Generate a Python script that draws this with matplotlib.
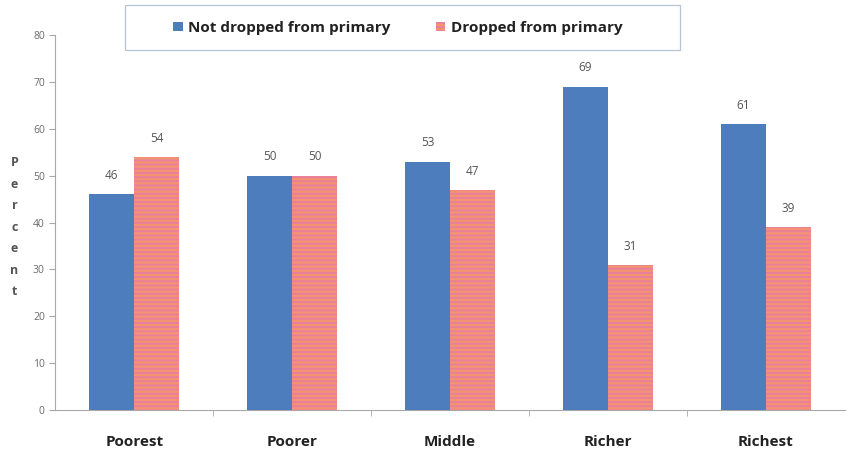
import numpy as np
import matplotlib
matplotlib.use('Agg')
import matplotlib.pyplot as plt
from matplotlib.patches import Rectangle

plt.rcParams['hatch.linewidth'] = 1.4
plt.rcParams['font.family'] = ['Open Sans', 'DejaVu Sans']

# school dropout by wealth quintile
groups = ['Poorest', 'Poorer', 'Middle', 'Richer', 'Richest']
not_dropped = [46, 50, 53, 69, 61]
dropped = [54, 50, 47, 31, 39]
series_names = ['Not dropped from primary', 'Dropped from primary']

BLUE = '#4d7dbd'
SALMON = '#f4946e'
PINK = '#e87f9e'
TICK_C = '#6b6b6b'
AXIS_C = '#a8a8a8'

fig = plt.figure(figsize=(8.5, 4.5), dpi=100, facecolor='white')
ax = fig.add_axes([0.065, 0.089, 0.929, 0.833])

x = np.arange(len(groups))
w = 0.285
b1 = ax.bar(x - w / 2, not_dropped, width=w, color=BLUE, zorder=3)
b2 = ax.bar(x + w / 2, dropped, width=w, color=SALMON, edgecolor=PINK,
            hatch='----', linewidth=0, zorder=3)

for bars, vals in ((b1, not_dropped), (b2, dropped)):
    for bar, v in zip(bars, vals):
        ax.text(bar.get_x() + bar.get_width() / 2, v + 2.6, f'{v}',
                ha='center', va='bottom', fontsize=8.5, color='#555555')

ax.set_xlim(-0.5, len(groups) - 0.5)
ax.set_ylim(0, 80)
ax.set_yticks(range(0, 81, 10))
ax.tick_params(axis='y', labelsize=7.5, colors=AXIS_C, labelcolor=TICK_C,
               length=4, direction='out')
ax.set_xticks(x)
ax.set_xticklabels(groups, fontsize=11, fontweight='bold', color='#222222')
ax.tick_params(axis='x', length=0, pad=18)
ax.set_xticks(np.arange(0.5, len(groups) - 0.5, 1), minor=True)
ax.tick_params(axis='x', which='minor', length=4, color=AXIS_C,
               direction='out')

for side in ('top', 'right'):
    ax.spines[side].set_visible(False)
ax.spines['left'].set_color(AXIS_C)
ax.spines['bottom'].set_color(AXIS_C)

fig.text(0.017, 0.495, '\n'.join('Percent'), ha='center', va='center',
         fontsize=9, fontweight='bold', color='#555555', linespacing=1.85)

# legend box drawn separately so its size can be set directly
fig.patches.append(Rectangle((125 / 850, 1 - 50 / 450), 555 / 850, 45 / 450,
                             transform=fig.transFigure, facecolor='white',
                             edgecolor='#b8c4d4', linewidth=0.9, zorder=0))
leg = fig.legend([b1, b2], series_names, loc='center',
                 bbox_to_anchor=(0.468, 1 - 28 / 450), ncol=2, frameon=False,
                 fontsize=11, handlelength=0.6, handleheight=0.6,
                 handletextpad=0.35, columnspacing=3.0)
for t in leg.get_texts():
    t.set_fontweight('bold')
    t.set_color('#222222')

fig.savefig('out.png', dpi=100, facecolor='white')
